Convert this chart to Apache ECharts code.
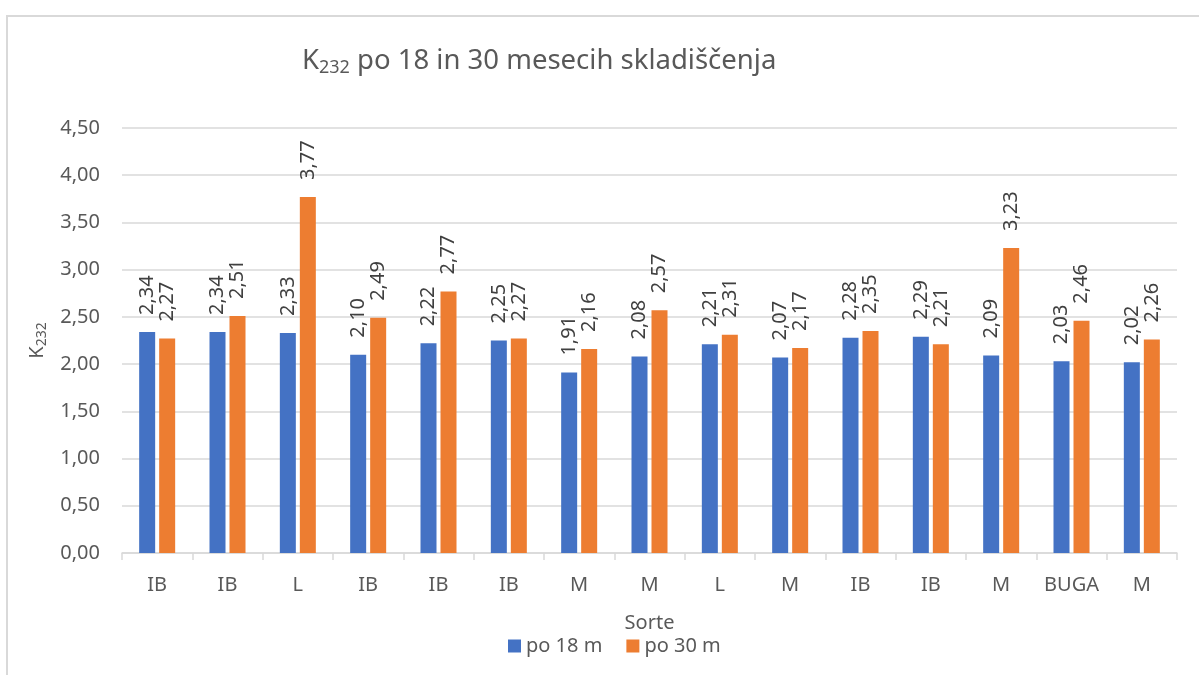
<!DOCTYPE html>
<html>
<head>
<meta charset="utf-8">
<script src="https://cdn.jsdelivr.net/npm/echarts@6/dist/echarts.min.js"></script>
<style>
  html, body { margin: 0; padding: 0; background: #fff; }
  #chart { width: 1199px; height: 675px; }
</style>
</head>
<body>
<div id="chart"></div>
<script>
// Cultivar labels along the x axis
const categories = ['IB', 'IB', 'L', 'IB', 'IB', 'IB', 'M', 'M', 'L', 'M', 'IB', 'IB', 'M', 'BUGA', 'M'];
// K232 after 18 months of storage
const after18 = [2.34, 2.34, 2.33, 2.10, 2.22, 2.25, 1.91, 2.08, 2.21, 2.07, 2.28, 2.29, 2.09, 2.03, 2.02];
// K232 after 30 months of storage
const after30 = [2.27, 2.51, 3.77, 2.49, 2.77, 2.27, 2.16, 2.57, 2.31, 2.17, 2.35, 2.21, 3.23, 2.46, 2.26];
const seriesNames = ['po 18 m', 'po 30 m'];

const FONT = '"Noto Sans", "Open Sans", sans-serif';
const GREY = '#595959';
const fmt = v => v.toFixed(2).replace('.', ',');

const chart = echarts.init(document.getElementById('chart'), null, { renderer: 'canvas' });

const labelStyle = {
  show: true,
  position: 'top',
  rotate: 90,
  align: 'left',
  verticalAlign: 'middle',
  distance: 17,
  color: '#404040',
  fontFamily: FONT,
  fontSize: 20,
  formatter: p => fmt(p.value)
};

chart.setOption({
  animation: false,
  backgroundColor: '#ffffff',
  graphic: [{
    type: 'rect',
    shape: { x: 7, y: 16, width: 1300, height: 1000 },
    style: { fill: 'none', stroke: '#D9D9D9', lineWidth: 2 },
    silent: true
  }],
  title: {
    text: '{t|K}{sub|232}{t| po 18 in 30 mesecih skladiščenja}',
    left: 297,
    top: 40,
    textStyle: {
      fontWeight: 'normal',
      rich: {
        t: { fontFamily: FONT, fontSize: 27.5, fontWeight: 'normal', color: GREY },
        sub: { fontFamily: FONT, fontSize: 18, fontWeight: 'normal', color: GREY, padding: [14, 0, 0, 0] }
      }
    }
  },
  legend: {
    data: seriesNames,
    bottom: 14,
    left: 503,
    icon: 'rect',
    itemWidth: 13,
    itemHeight: 13,
    itemGap: 24,
    textStyle: { fontFamily: FONT, fontSize: 20, color: GREY }
  },
  grid: { left: 122, right: 22, top: 128, bottom: 122 },
  xAxis: {
    type: 'category',
    data: categories,
    name: 'Sorte',
    nameLocation: 'middle',
    nameGap: 60,
    nameTextStyle: { fontFamily: FONT, fontSize: 20, color: GREY },
    axisLine: { show: true, lineStyle: { color: '#D9D9D9', width: 1.5 } },
    axisTick: { show: true, length: 7, lineStyle: { color: '#D9D9D9', width: 1.5 } },
    axisLabel: { interval: 0, fontFamily: FONT, fontSize: 20, color: GREY, margin: 22 }
  },
  yAxis: {
    type: 'value',
    min: 0,
    max: 4.5,
    interval: 0.5,
    name: '{t|K}{sub|232}',
    nameLocation: 'middle',
    nameRotate: 90,
    nameGap: 71,
    nameTextStyle: {
      rich: {
        t: { fontFamily: FONT, fontSize: 20, color: GREY },
        sub: { fontFamily: FONT, fontSize: 14, color: GREY, padding: [10, 0, 0, 0] }
      }
    },
    axisLine: { show: false },
    axisTick: { show: false },
    splitLine: { lineStyle: { color: '#D9D9D9', width: 1.5 } },
    axisLabel: {
      fontFamily: FONT, fontSize: 20, color: GREY, margin: 22,
      formatter: v => fmt(v)
    }
  },
  series: [
    {
      name: seriesNames[0],
      type: 'bar',
      data: after18,
      barWidth: 16,
      barGap: '25%',
      itemStyle: { color: '#4472C4' },
      label: labelStyle
    },
    {
      name: seriesNames[1],
      type: 'bar',
      data: after30,
      barWidth: 16,
      barGap: '25%',
      itemStyle: { color: '#ED7D31' },
      label: labelStyle
    }
  ]
});
</script>
</body>
</html>
